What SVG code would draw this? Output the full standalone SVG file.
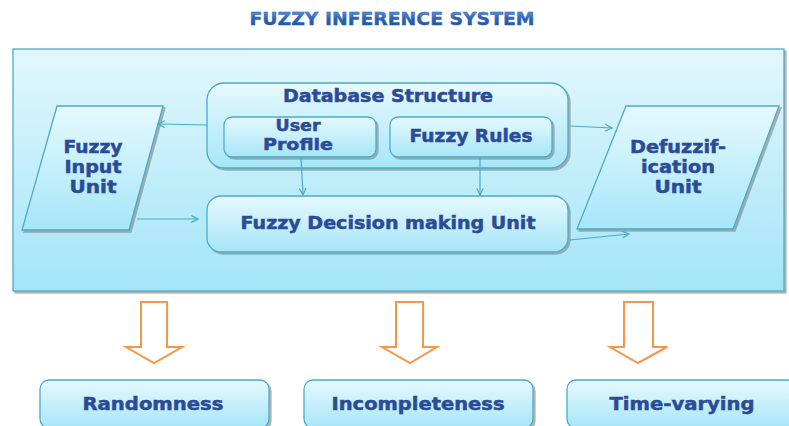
<svg xmlns="http://www.w3.org/2000/svg" width="789" height="426" viewBox="0 0 789 426">
<defs>
<linearGradient id="bg" x1="0" y1="0" x2="0" y2="1"><stop offset="0" stop-color="#e2f7fd"/><stop offset="1" stop-color="#a3e5f7"/></linearGradient>
<linearGradient id="bx" x1="0" y1="0" x2="0" y2="1"><stop offset="0" stop-color="#e6f9fe"/><stop offset="1" stop-color="#a6e6f8"/></linearGradient>
<linearGradient id="tt" x1="0" y1="0" x2="0" y2="1"><stop offset="0" stop-color="#6a9fdc"/><stop offset="0.5" stop-color="#2a62b4"/><stop offset="1" stop-color="#1d4f9a"/></linearGradient>
<filter id="sh" x="-5%" y="-5%" width="112%" height="115%"><feDropShadow dx="2" dy="2" stdDeviation="0.5" flood-color="#808080" flood-opacity="0.6"/></filter>
<marker id="ah" viewBox="0 0 10 10" refX="9" refY="5" markerWidth="7" markerHeight="7" orient="auto"><path d="M1,1 L9,5 L1,9" fill="none" stroke="#4bacc6" stroke-width="1.5"/></marker>
</defs>
<style>
.box{fill:url(#bx);stroke:#4bacc6;stroke-width:1.3;filter:url(#sh)}
.lbl{font-family:"DejaVu Sans",Verdana,sans-serif;font-weight:bold;font-size:17px;fill:#2b4b97;stroke:#2b4b97;stroke-width:0.5;text-anchor:middle}
.sm{font-size:16px}
.con{fill:none;stroke:#4bacc6;stroke-width:1.2;marker-end:url(#ah)}
.big{fill:#ffffff;stroke:#f79646;stroke-width:2}
</style>
<rect width="789" height="426" fill="#ffffff"/>
<text x="392" y="25" font-family="DejaVu Sans,Verdana,sans-serif" font-weight="bold" font-size="17" fill="url(#tt)" stroke="#2a62b4" stroke-width="0.4" text-anchor="middle" textLength="285" lengthAdjust="spacingAndGlyphs">FUZZY INFERENCE SYSTEM</text>
<g id="system"><rect x="13" y="49" width="771" height="242" fill="url(#bg)" stroke="#4bacc6" stroke-width="1.3" filter="url(#sh)"/></g>
<g id="database"><rect class="box" x="207" y="83" width="361" height="85" rx="17"/><text class="lbl" x="388" y="102" textLength="210" lengthAdjust="spacingAndGlyphs">Database Structure</text></g>
<g id="userprofile"><rect class="box" x="224" y="117" width="152" height="40" rx="8"/><text class="lbl sm" x="298" y="131" textLength="45" lengthAdjust="spacingAndGlyphs">User</text><text class="lbl sm" x="298" y="150" textLength="70" lengthAdjust="spacingAndGlyphs">Profile</text></g>
<g id="fuzzyrules"><rect class="box" x="390" y="117" width="162" height="40" rx="8"/><text class="lbl" x="471" y="142" textLength="123" lengthAdjust="spacingAndGlyphs">Fuzzy Rules</text></g>
<g id="decision"><rect class="box" x="207" y="196" width="361" height="56" rx="14"/><text class="lbl" x="388" y="229" textLength="295" lengthAdjust="spacingAndGlyphs">Fuzzy Decision making Unit</text></g>
<g id="input"><path class="box" d="M57,106 L163,106 L129,230 L22,230 Z"/><text class="lbl" x="93" y="153" textLength="59" lengthAdjust="spacingAndGlyphs">Fuzzy</text><text class="lbl" x="93" y="173" textLength="57" lengthAdjust="spacingAndGlyphs">Input</text><text class="lbl" x="93" y="193" textLength="47" lengthAdjust="spacingAndGlyphs">Unit</text></g>
<g id="defuzz"><path class="box" d="M626,106 L779,106 L733,229 L577,229 Z"/><text class="lbl" x="678" y="153" textLength="96" lengthAdjust="spacingAndGlyphs">Defuzzif-</text><text class="lbl" x="678" y="173" textLength="74" lengthAdjust="spacingAndGlyphs">ication</text><text class="lbl" x="678" y="193" textLength="47" lengthAdjust="spacingAndGlyphs">Unit</text></g>
<g id="connectors">
<path class="con" d="M207,125 L158,124"/>
<path class="con" d="M137,219 L198,219"/>
<path class="con" d="M301,157 L303,195"/>
<path class="con" d="M480,157 L480,195"/>
<path class="con" d="M570,126 L612,128"/>
<path class="con" d="M570,240 L629,234"/>
<path class="big" d="M141,302 L167,302 L167,347 L182,347 L154,363 L126,347 L141,347 Z"/>
<path class="big" d="M396,302 L423,302 L423,347 L437,347 L410,363 L382,347 L396,347 Z"/>
<path class="big" d="M624,302 L653,302 L653,347 L667,347 L638,363 L610,347 L624,347 Z"/>
</g>
<g id="randomness"><rect class="box" x="40" y="380" width="229" height="48" rx="9"/><text class="lbl" x="153" y="410" textLength="141" lengthAdjust="spacingAndGlyphs">Randomness</text></g>
<g id="incompleteness"><rect class="box" x="304" y="380" width="229" height="48" rx="9"/><text class="lbl" x="418" y="410" textLength="173" lengthAdjust="spacingAndGlyphs">Incompleteness</text></g>
<g id="timevarying"><rect class="box" x="567" y="380" width="229" height="48" rx="9"/><text class="lbl" x="682" y="410" textLength="145" lengthAdjust="spacingAndGlyphs">Time-varying</text></g>
</svg>
